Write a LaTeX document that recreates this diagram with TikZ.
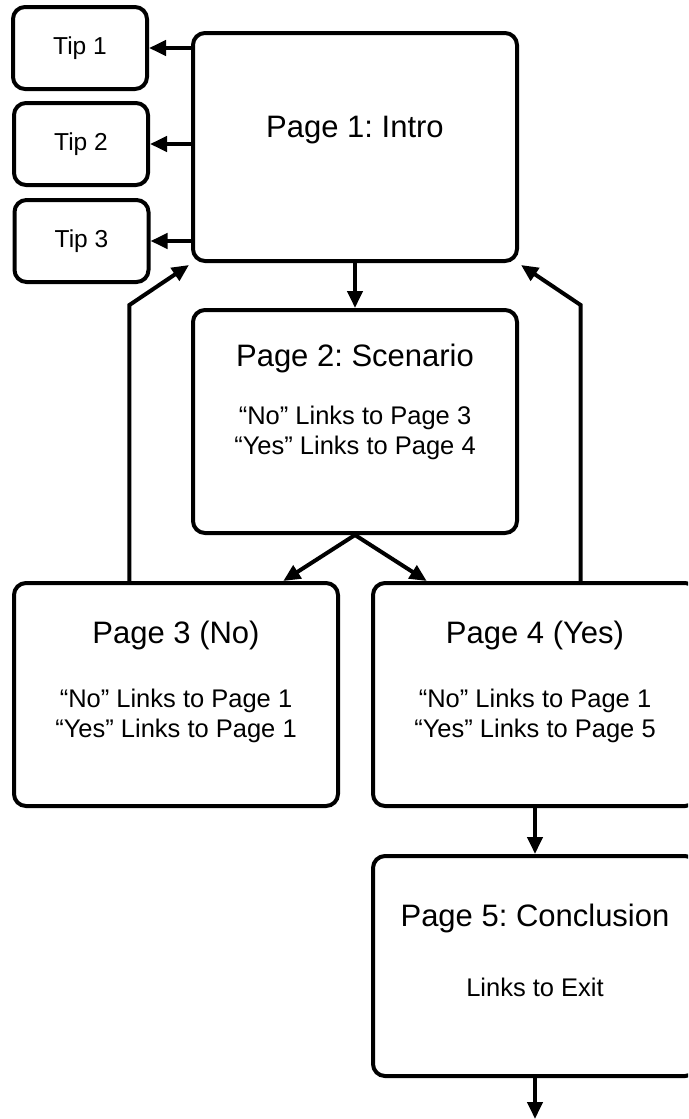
\documentclass[tikz,border=0pt]{standalone}
\usepackage{fontspec}
\setmainfont{Liberation Sans}
\usetikzlibrary{arrows.meta,calc}
\frenchspacing
\begin{document}
\begin{tikzpicture}[x=1pt,y=-1pt,
  box/.style={draw=black,line width=4pt,rounded corners=12pt,inner sep=0pt,fill=white},
  pagebox/.style={box,minimum width=324pt,minimum height=223pt},
  tipbox/.style={box,minimum width=134pt,minimum height=82pt,font=\fontsize{24.5}{29}\selectfont},
  titletext/.style={inner sep=0pt,font=\fontsize{31}{37}\selectfont},
  subtext/.style={inner sep=0pt,align=center,font=\fontsize{25.5}{30}\selectfont},
  conn/.style={line width=4pt,-{Triangle[length=17pt,width=15pt]}},
  route/.style={conn,line join=miter}]
\useasboundingbox (0,0) rectangle (688,1119);
\clip (0,0) rectangle (688,1119);
\fill[white] (0,0) rectangle (688,1119);

% boxes
\node[tipbox] (tip1) at (80,48) {Tip 1};
\node[tipbox] (tip2) at (81,144) {Tip 2};
\node[tipbox] (tip3) at (81.5,241) {Tip 3};
\node[pagebox,minimum height=228pt] (p1) at (355,147) {};
\node[pagebox] (p2) at (355,421.5) {};
\node[pagebox] (p3) at (176,694.5) {};
\node[pagebox] (p4) at (535,694.5) {};
\node[pagebox,minimum height=220pt] (p5) at (535,966) {};

% texts
\node[titletext] (t1) at ($(p1.north)+(0,99)$) {Page 1: Intro};
\node[titletext] (t2) at ($(p2.north)+(0,50)$) {Page 2: Scenario};
\node[subtext] (s2) at ($(p2.north)+(0,125)$) {“No” Links to Page 3\\“Yes” Links to Page 4};
\node[titletext] (t3) at ($(p3.north)+(0,54)$) {Page 3 (No)};
\node[subtext] (s3) at ($(p3.north)+(0,135)$) {“No” Links to Page 1\\“Yes” Links to Page 1};
\node[titletext] (t4) at ($(p4.north)+(0,54)$) {Page 4 (Yes)};
\node[subtext] (s4) at ($(p4.north)+(0,135)$) {“No” Links to Page 1\\“Yes” Links to Page 5};
\node[titletext] (t5) at ($(p5.north)+(0,64)$) {Page 5: Conclusion};
\node[subtext] (s5) at ($(p5.north)+(0,133)$) {Links to Exit};

% coordinates
\coordinate (p3a) at ($(p3.north west)!0.827!(p3.north east)$);
\coordinate (p4a) at ($(p4.north west)!0.17!(p4.north east)$);
\coordinate (p3b) at ($(p3.north west)!0.358!(p3.north east)$);
\coordinate (p4b) at ($(p4.north west)!0.639!(p4.north east)$);
\coordinate (exit) at ($(p5.south)+(0,41)$);

% connectors
\draw[conn] (tip1.east -| p1.west) -- (tip1.east);
\draw[conn] (tip2.east -| p1.west) -- (tip2.east);
\draw[conn] (tip3.east -| p1.west) -- (tip3.east);
\draw[conn] (p1.south) -- (p2.north);
\draw[conn] (p2.south) -- (p3a);
\draw[conn] (p2.south) -- (p4a);
\draw[route] (p3b) -- (p3b |- 0,305) -- ($(p1.south west)+(-2,2)$);
\draw[route] (p4b) -- (p4b |- 0,305) -- ($(p1.south east)+(2,2)$);
\draw[conn] (p4.south) -- (p5.north);
\draw[conn] (p5.south) -- (exit);
\end{tikzpicture}
\end{document}
